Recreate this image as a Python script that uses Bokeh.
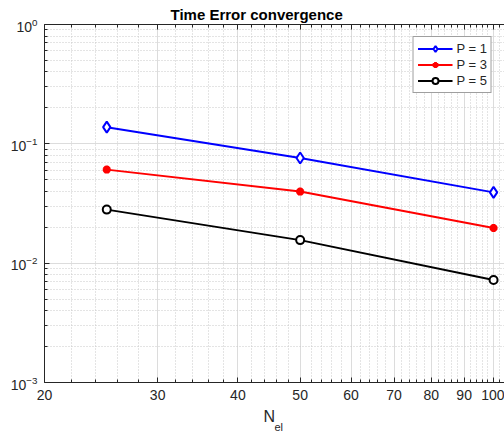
from bokeh.plotting import figure
from bokeh.models import (FixedTicker, LogAxis, BasicTickFormatter, LogTickFormatter,
                          Title, Legend, LegendItem, Range1d)
from bokeh.embed import file_html
from bokeh.resources import INLINE

# ---- data ----
n_el = [25, 50, 100]
err_p1 = [0.138, 0.0761, 0.0392]
err_p3 = [0.0608, 0.0398, 0.0197]
err_p5 = [0.0281, 0.0156, 0.00722]
series_labels = ["P = 1", "P = 3", "P = 5"]

x_major = [20, 30, 40, 50, 60, 70, 80, 90, 100]
x_minor = [v for v in range(22, 105, 2) if v % 10 != 0]
y_major = [1e-3, 1e-2, 1e-1, 1.0]
y_minor = [m * 10.0 ** e for e in (-3, -2, -1) for m in range(2, 10)]

title_text = "Time Error convergence"
x_label_main = "N"
x_label_sub = "el"

FONT = "Liberation Sans"
AX_COL = "#262626"

x_lo, x_hi = 20, 104.0
y_lo, y_hi = 1e-3, 1.0

p = figure(width=504, height=433, x_axis_type="log", y_axis_type="log",
           x_range=Range1d(x_lo, x_hi), y_range=Range1d(y_lo, y_hi),
           output_backend="svg", toolbar_location=None,
           min_border_left=44, min_border_right=0, min_border_top=24, min_border_bottom=51)
p.outline_line_color = None
p.background_fill_color = "white"

p.title.text = title_text
p.title.align = "left"
p.title.offset = 126
p.title.standoff = 4
p.title.vertical_align = "bottom"
p.title.text_font = FONT
p.title.text_font_style = "bold"
p.title.text_font_size = "15px"
p.title.text_color = "black"


def style_axis(ax, labels=True, ticks=None):
    ax.axis_line_color = AX_COL
    ax.axis_line_width = 1
    ax.major_tick_line_color = AX_COL
    ax.minor_tick_line_color = AX_COL
    ax.major_tick_in = 5
    ax.major_tick_out = 0
    ax.minor_tick_in = 3
    ax.minor_tick_out = 0
    ax.major_label_text_font = FONT
    ax.major_label_text_color = AX_COL
    ax.axis_label_standoff = 0
    if labels:
        ax.major_label_text_font_size = "14px"
        ax.major_label_standoff = 7
    else:
        ax.major_label_text_font_size = "1px"
        ax.major_label_standoff = 0
        ax.major_label_overrides = {t: "" for t in ticks}


xt = FixedTicker(ticks=x_major, minor_ticks=x_minor)
yt = FixedTicker(ticks=y_major, minor_ticks=y_minor)

p.xaxis.ticker = xt
p.xaxis.formatter = BasicTickFormatter()
p.yaxis.ticker = yt
p.yaxis.formatter = LogTickFormatter()
style_axis(p.xaxis[0])
style_axis(p.yaxis[0])

top_ax = LogAxis(ticker=xt, formatter=BasicTickFormatter())
style_axis(top_ax, labels=False, ticks=x_major)
p.add_layout(top_ax, "above")

for g in (p.xgrid[0], p.ygrid[0]):
    g.grid_line_color = "#dcdcdc"
    g.grid_line_width = 1
    g.minor_grid_line_color = "#c8c8c8"
    g.minor_grid_line_dash = "1 2"
    g.minor_grid_line_width = 1

# ---- series ----
l1 = p.line(n_el, err_p1, line_color="#0000ff", line_width=2)
m1 = p.scatter(n_el, err_p1, marker="diamond", size=11, line_color="#0000ff",
               line_width=2, fill_color="white")
l3 = p.line(n_el, err_p3, line_color="#ff0000", line_width=2)
m3 = p.scatter(n_el, err_p3, marker="asterisk", size=8, line_color="#ff0000",
               line_width=2.8, fill_color="#ff0000")
l5 = p.line(n_el, err_p5, line_color="black", line_width=2)
m5 = p.scatter(n_el, err_p5, marker="circle", size=8, line_color="black",
               line_width=2, fill_color="white")

legend = Legend(items=[LegendItem(label=series_labels[0], renderers=[l1, m1]),
                       LegendItem(label=series_labels[1], renderers=[l3, m3]),
                       LegendItem(label=series_labels[2], renderers=[l5, m5])],
                location="top_right")
legend.margin = 12
legend.padding = 4
legend.spacing = 1
legend.glyph_width = 35
legend.glyph_height = 15
legend.label_height = 15
legend.label_standoff = 4
legend.label_text_font = FONT
legend.label_text_font_size = "13px"
legend.label_text_color = AX_COL
legend.border_line_color = "#404040"
legend.border_line_width = 1
legend.background_fill_color = "white"
legend.background_fill_alpha = 1
p.add_layout(legend)

# ---- x axis label N_el as two stacked titles below ----
p.add_layout(Title(text=x_label_main, align="left", offset=219, standoff=6,
                   vertical_align="bottom",
                   text_font=FONT, text_font_size="16px", text_font_style="normal",
                   text_color=AX_COL), "below")
p.add_layout(Title(text=x_label_sub, align="left", offset=230, standoff=-14,
                   vertical_align="top",
                   text_font=FONT, text_font_size="11px", text_font_style="normal",
                   text_color=AX_COL), "below")

open("out.html", "w").write(file_html(p, INLINE))
